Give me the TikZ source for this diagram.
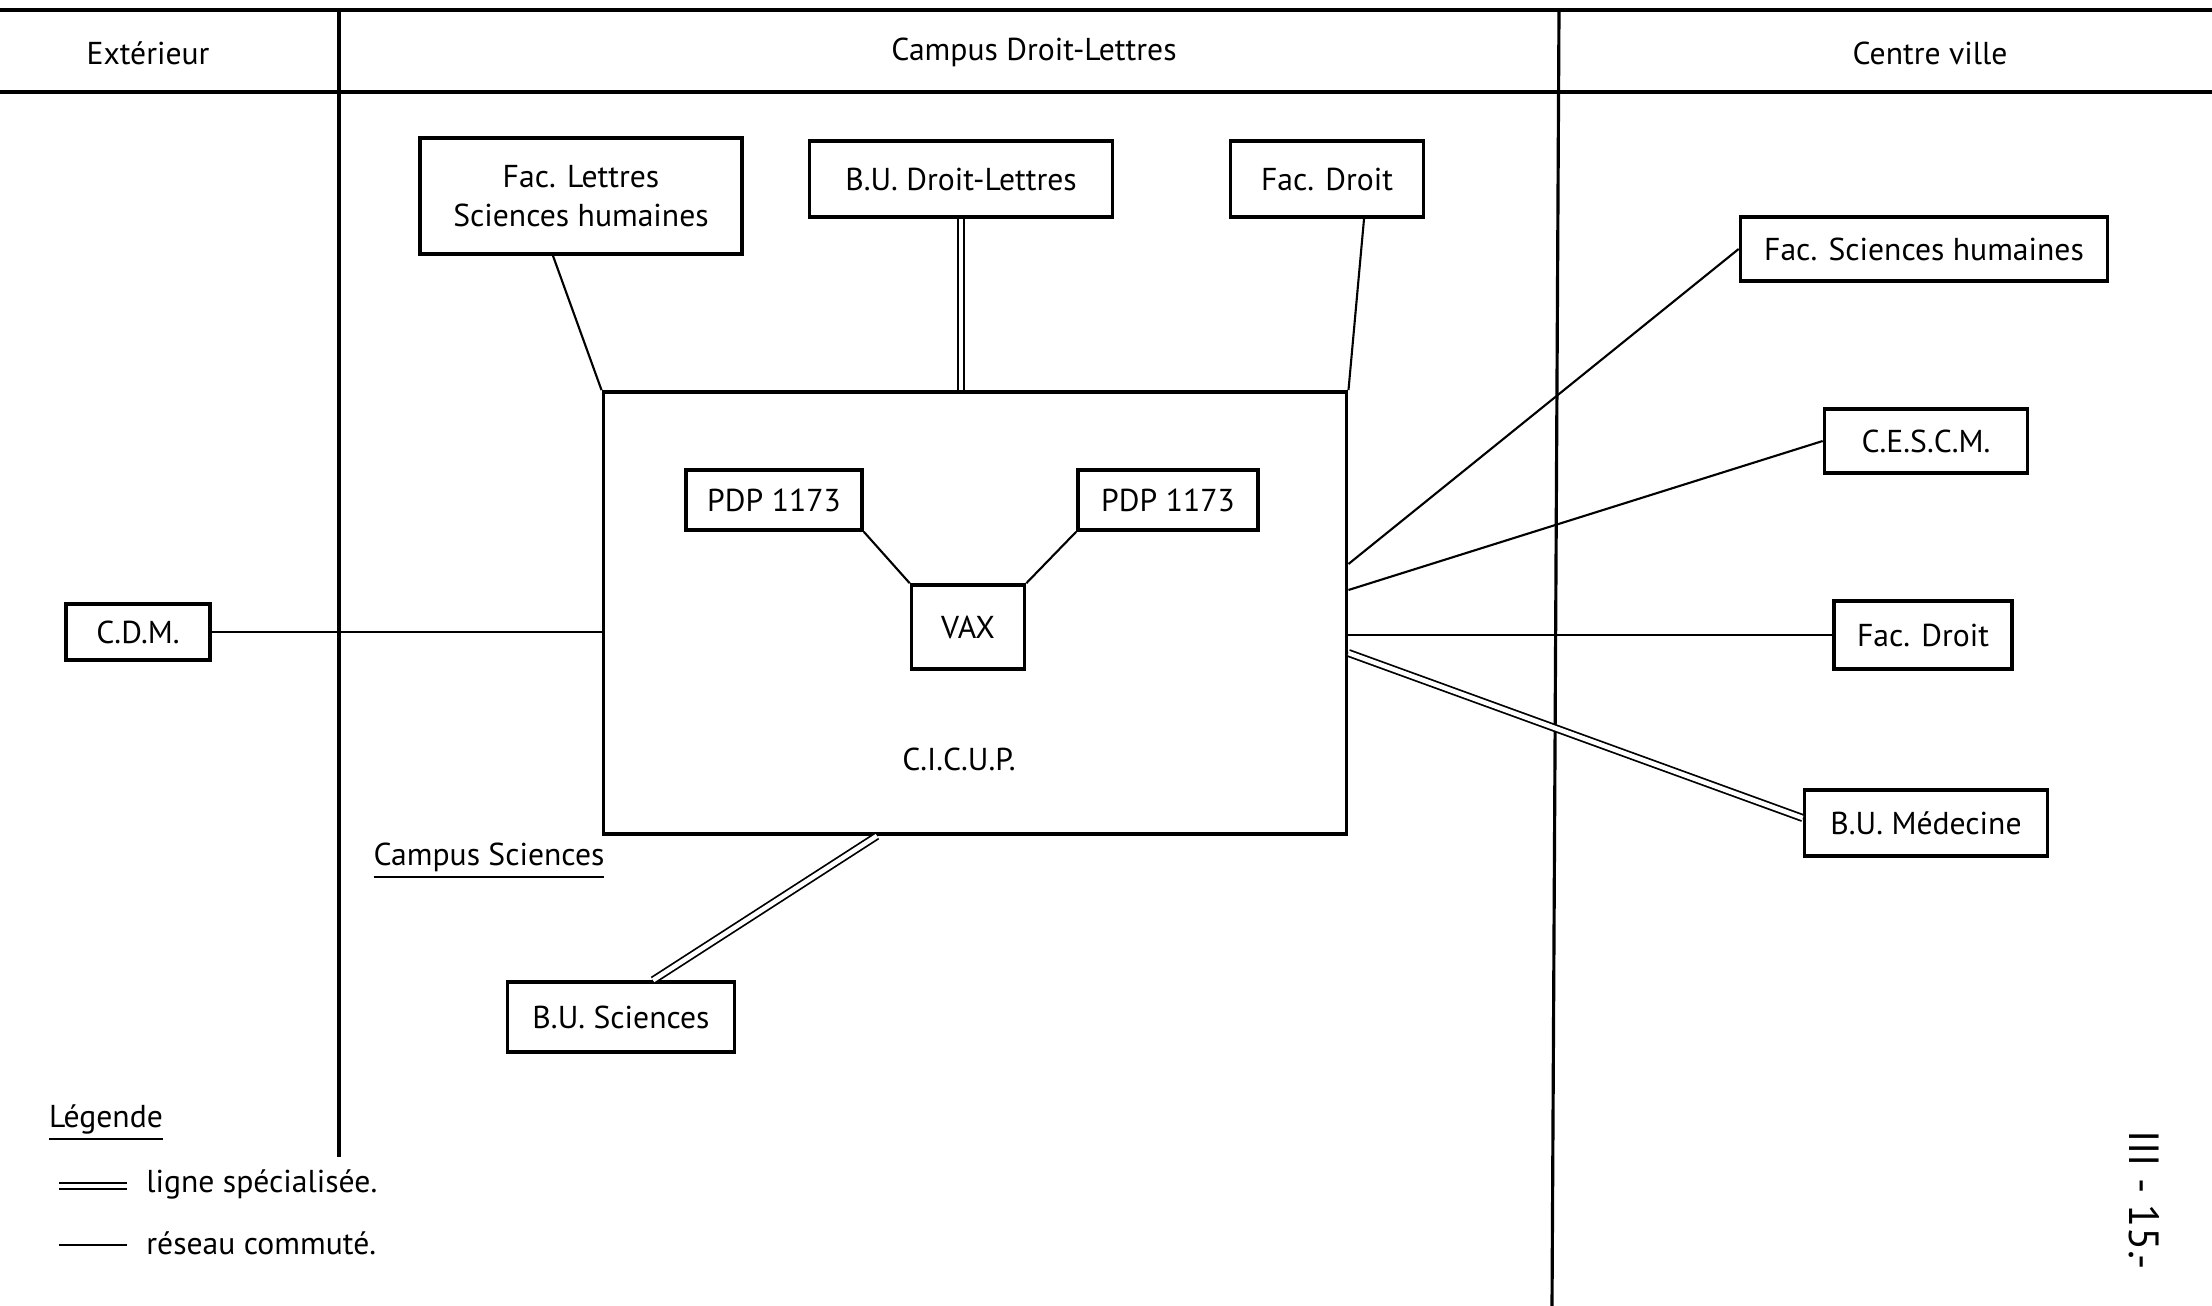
\documentclass[tikz,border=0pt]{standalone}
\usepackage{fontspec}
\setmainfont{PT Sans}
\usepackage{tikz}

\begin{document}
\begin{tikzpicture}[x=0.01cm, y=-0.01cm, every node/.style={font=\small}, bx/.style={draw, line width=1pt, inner sep=2pt, align=center}, ln/.style={line width=0.6pt}, dbl/.style={double, double distance=1.3pt, line width=0.5pt}]
	\useasboundingbox (0,0) rectangle (2212,1306);
	% frame of the table
	\draw[line width=1.4pt] (0,10) -- (2212,10);
	\draw[line width=1.4pt] (0,92) -- (2212,92);
	\draw[line width=0.9pt] (339,10) -- (339,1157);
	\draw[line width=0.9pt] (1559,10) -- (1552,1306);
	\node (ext) at (148,53) {Extérieur};
	\node (campdl) at (1034,52) {Campus Droit-Lettres};
	\node (ville) at (1930,53) {Centre ville};
	% campus Droit-Lettres
	\node[bx, minimum width=3.22cm, minimum height=1.16cm] (lettres) at (581,196) {Fac. Lettres\\ Sciences humaines};
	\node[bx, minimum width=3.03cm, minimum height=0.76cm] (budl) at (961,179) {B.U. Droit-Lettres};
	\node[bx, minimum width=1.93cm, minimum height=0.76cm] (droitA) at (1327,179) {Fac. Droit};
	\node[bx, minimum width=7.43cm, minimum height=4.42cm] (cicup) at (975,613) {};
	\node (cicuptxt) at (959,759) {C.I.C.U.P.};
	\node[bx, minimum width=1.76cm, minimum height=0.60cm] (pdpL) at (774,500) {PDP 1173};
	\node[bx, minimum width=1.80cm, minimum height=0.60cm] (pdpR) at (1168,500) {PDP 1173};
	\node[bx, minimum width=1.13cm, minimum height=0.84cm] (vax) at (968,627) {VAX};
	% exterieur, centre ville, campus sciences
	\node[bx, minimum width=1.44cm, minimum height=0.56cm] (cdm) at (138,632) {C.D.M.};
	\node[bx, minimum width=3.67cm, minimum height=0.64cm] (fsh) at (1924,249) {Fac. Sciences humaines};
	\node[bx, minimum width=2.03cm, minimum height=0.64cm] (cescm) at (1926,441) {C.E.S.C.M.};
	\node[bx, minimum width=1.78cm, minimum height=0.68cm] (droitB) at (1923,635) {Fac. Droit};
	\node[bx, minimum width=2.43cm, minimum height=0.66cm] (bumed) at (1926,823) {B.U. Médecine};
	\node[bx, minimum width=2.27cm, minimum height=0.70cm] (busci) at (621,1017) {B.U. Sciences};
	\node (campsci) at (489,861) {\underline{Campus Sciences}};
	% links
	\draw[ln] ([xshift=-0.28cm]lettres.south) -- (cicup.north west);
	\draw[dbl] (budl.south) -- (budl.south |- cicup.north);
	\draw[ln] ([xshift=0.37cm]droitA.south) -- (cicup.north east);
	\draw[ln] (pdpL.south east) -- (vax.north west);
	\draw[ln] (pdpR.south west) -- (vax.north east);
	\draw[ln] (cdm.east) -- (cdm.east -| cicup.west);
	\draw[ln] ([yshift=0.49cm]cicup.east) -- (fsh.west);
	\draw[ln] ([yshift=0.23cm]cicup.east) -- (cescm.west);
	\draw[ln] (droitB.west -| cicup.east) -- (droitB.west);
	\draw[dbl] ([yshift=-0.40cm]cicup.east) -- ([yshift=0.05cm]bumed.west);
	\draw[dbl] ([xshift=-0.98cm]cicup.south) -- ([xshift=0.32cm]busci.north);
	% legend
	\node (leg) at (106,1123) {\underline{Légende}};
	\coordinate (lsA) at (59,1186);
	\coordinate (lsB) at (127,1186);
	\coordinate (rcA) at (59,1245);
	\coordinate (rcB) at (127,1245);
	\draw[dbl] (lsA) -- (lsB);
	\draw[ln] (rcA) -- (rcB);
	\node[anchor=west] (lstxt) at (134,1184) {ligne spécialisée.};
	\node[anchor=west] (rctxt) at (134,1243) {réseau commuté.};
	\node[rotate=-90, font=\large] (page) at (2144,1200) {III - 15.-};
\end{tikzpicture}
\end{document}
